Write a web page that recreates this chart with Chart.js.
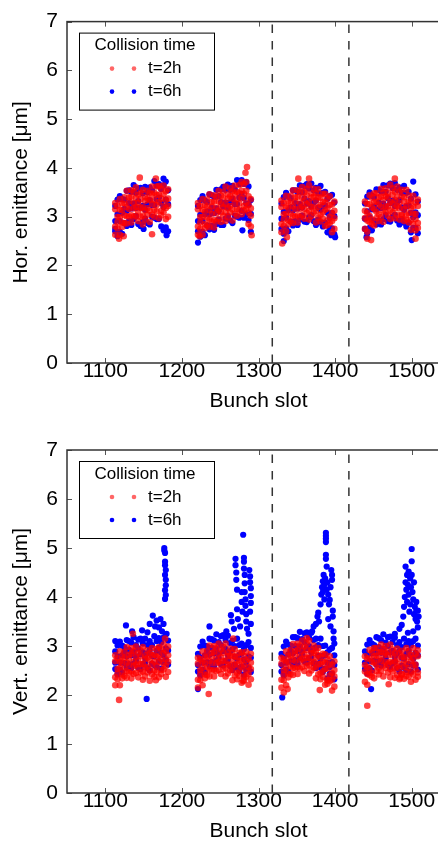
<!DOCTYPE html>
<html lang="en">
<head>
<meta charset="UTF-8">
<title>Bunch emittance</title>
<script src="https://cdn.jsdelivr.net/npm/chart.js@4.4.0/dist/chart.umd.min.js"></script>
<style>
  html, body { margin: 0; padding: 0; background: #fff; overflow: hidden; width: 438px; height: 846px; }
  #hor { position: absolute; left: 0; top: 0; }
  #ver { position: absolute; left: 0; top: 420px; }
</style>
</head>
<body>
<canvas id="hor" width="470" height="420"></canvas>
<canvas id="ver" width="470" height="430"></canvas>
<script>
// tick labels and batch boundaries
const xTicks = [1100, 1200, 1300, 1400, 1500];
const yTicks = [0, 1, 2, 3, 4, 5, 6, 7];
const batchEdges = [1318, 1418];

// bunch slots sampled in the four trains
const slots = [
  1113,1116,1119,1122,1125,1128,1131,1134,1137,1140,1143,1146,1149,1152,1155,1158,1161,1164,1167,1170,1173,1176,1179,1182,
  1221,1224,1227,1230,1233,1236,1239,1242,1245,1248,1251,1254,1257,1260,1263,1266,1269,1272,1275,1278,1281,1284,1287,1290,
  1330,1333,1336,1339,1342,1345,1348,1351,1354,1357,1360,1363,1366,1369,1372,1375,1378,1381,1384,1387,1390,1393,1396,1399,
  1439,1442,1445,1448,1451,1454,1457,1460,1463,1466,1469,1472,1475,1478,1481,1484,1487,1490,1493,1496,1499,1502,1505,1508
];

// horizontal emittance, t=2h (several readings per slot)
const horRedA = [
  3.28,3.23,3.36,3.27,3.40,3.53,3.40,3.54,3.51,3.60,3.45,3.49,3.55,3.41,3.53,3.49,3.62,3.49,3.62,3.63,3.57,3.64,3.52,3.56,
  3.28,3.22,3.36,3.24,3.35,3.46,3.30,3.44,3.41,3.53,3.43,3.51,3.62,3.46,3.58,3.52,3.64,3.51,3.65,3.71,3.67,3.71,3.42,3.36,
  3.33,3.28,3.43,3.32,3.43,3.54,3.40,3.54,3.50,3.61,3.50,3.57,3.65,3.48,3.57,3.48,3.56,3.39,3.47,3.47,3.37,3.42,3.25,3.31,
  3.31,3.26,3.44,3.39,3.48,3.48,3.40,3.57,3.49,3.58,3.49,3.66,3.58,3.51,3.62,3.51,3.55,3.40,3.55,3.44,3.32,3.43,3.29,3.35
];
const horRedB = [
  3.15,3.00,3.14,3.13,3.27,3.20,3.31,3.41,3.28,3.38,3.28,3.36,3.19,3.32,3.37,3.34,3.46,3.34,3.45,3.45,3.37,3.46,3.34,3.37,
  3.15,2.99,3.14,3.10,3.22,3.13,3.21,3.31,3.18,3.31,3.26,3.38,3.26,3.37,3.42,3.37,3.48,3.36,3.48,3.53,3.47,3.53,3.24,3.17,
  3.20,3.05,3.21,3.18,3.30,3.21,3.31,3.41,3.27,3.39,3.33,3.44,3.29,3.39,3.41,3.33,3.40,3.24,3.30,3.29,3.17,3.24,3.07,3.12,
  3.12,3.08,3.26,3.19,3.30,3.31,3.25,3.41,3.34,3.42,3.40,3.30,3.45,3.34,3.40,3.28,3.42,3.31,3.22,3.31,3.18,3.21,3.06,3.22
];
const horRedC = [
  2.80,2.89,2.99,2.88,3.03,3.01,3.16,3.03,3.17,3.20,3.11,3.18,3.02,3.13,3.17,3.12,3.26,3.14,3.24,3.30,3.12,3.22,3.18,3.22,
  2.80,2.88,2.99,2.85,2.98,2.94,3.06,2.93,3.07,3.13,3.09,3.20,3.09,3.18,3.22,3.15,3.28,3.16,3.27,3.38,3.22,3.29,3.08,3.02,
  2.85,2.94,3.06,2.93,3.06,3.02,3.16,3.03,3.16,3.21,3.16,3.26,3.12,3.20,3.21,3.11,3.20,3.04,3.09,3.14,2.92,3.00,2.91,2.97,
  2.97,2.92,3.02,2.94,3.15,3.10,3.05,3.21,3.12,3.22,3.21,3.13,3.27,3.17,3.22,3.17,3.04,3.16,3.03,3.07,2.93,3.06,2.95,2.87
];
const horRedD = [
  2.63,2.76,2.63,2.79,2.87,2.86,3.00,2.88,3.00,3.02,2.91,3.00,2.84,2.94,3.04,2.89,3.04,3.00,3.11,2.97,3.03,3.09,2.95,3.00,
  2.63,2.75,2.63,2.76,2.82,2.79,2.90,2.78,2.90,2.95,2.89,3.02,2.91,2.99,3.09,2.92,3.06,3.02,3.14,3.05,3.13,3.16,2.85,2.80,
  2.68,2.81,2.70,2.84,2.90,2.87,3.00,2.88,2.99,3.03,2.96,3.08,2.94,3.01,3.08,2.88,2.98,2.90,2.96,2.81,2.83,2.87,2.68,2.75,
  2.75,2.69,2.89,2.85,2.82,2.97,2.91,2.99,2.89,3.09,3.02,2.95,3.09,2.97,3.04,2.94,3.03,2.91,2.94,2.88,2.73,2.85,2.72,2.77
];
const horRedOutX = [1118, 1124, 1145, 1161, 1166, 1223, 1283, 1285, 1291, 1331, 1337, 1352, 1366, 1442, 1447, 1478, 1505];
const horRedOutY = [2.55, 2.60, 3.80, 2.64, 3.78, 2.60, 3.90, 4.02, 2.62, 2.45, 2.58, 3.78, 3.78, 2.55, 2.52, 3.78, 2.55];

// horizontal emittance, t=6h
const horBlueA = [
  3.22,3.35,3.42,3.36,3.35,3.53,3.54,3.51,3.65,3.49,3.58,3.59,3.48,3.61,3.50,3.60,3.54,3.73,3.64,3.67,3.57,3.64,3.72,3.54,
  3.22,3.34,3.42,3.33,3.30,3.46,3.44,3.41,3.55,3.42,3.56,3.61,3.55,3.66,3.55,3.63,3.56,3.75,3.67,3.75,3.67,3.71,3.62,3.34,
  3.27,3.40,3.49,3.41,3.38,3.54,3.54,3.51,3.64,3.50,3.63,3.67,3.58,3.68,3.54,3.59,3.48,3.63,3.49,3.51,3.37,3.42,3.45,3.29,
  3.27,3.41,3.50,3.43,3.40,3.56,3.55,3.52,3.65,3.51,3.64,3.68,3.59,3.69,3.55,3.60,3.49,3.63,3.49,3.51,3.37,3.72,3.46,3.31
];
const horBlueB = [
  2.91,3.05,2.91,3.08,3.16,3.12,3.28,3.17,3.27,3.18,3.32,3.19,3.22,3.14,3.25,3.34,3.24,3.24,3.36,3.39,3.28,3.20,3.35,3.26,
  2.91,3.04,2.91,3.05,3.11,3.05,3.18,3.07,3.17,3.11,3.30,3.21,3.29,3.19,3.30,3.37,3.26,3.26,3.39,3.47,3.38,3.27,3.25,3.06,
  2.96,3.10,2.98,3.13,3.19,3.13,3.28,3.17,3.26,3.19,3.37,3.27,3.32,3.21,3.29,3.33,3.18,3.14,3.21,3.23,3.08,2.98,3.08,3.01,
  2.96,3.11,2.99,3.15,3.21,3.15,3.29,3.18,3.27,3.20,3.38,3.28,3.33,3.22,3.30,3.34,3.19,3.14,3.21,3.23,3.08,2.99,3.09,3.03
];
const horBlueC = [
  2.70,2.60,2.69,2.65,2.87,2.81,2.91,2.83,2.95,3.01,2.85,2.81,2.89,2.96,2.87,2.84,3.00,2.98,2.95,2.95,2.80,2.72,2.78,2.70,
  2.70,2.59,2.69,2.62,2.82,2.74,2.81,2.73,2.85,2.94,2.83,2.83,2.96,3.01,2.92,2.87,3.02,3.00,2.98,3.12,2.98,3.05,2.93,2.69,
  2.75,2.65,2.76,2.70,2.90,2.82,2.91,2.83,2.94,3.02,2.90,2.89,2.99,3.03,2.91,2.83,2.94,2.88,2.80,2.88,2.68,2.76,2.76,2.64,
  2.75,2.66,2.77,2.72,2.92,2.84,2.92,2.84,2.95,3.03,2.91,2.90,3.00,3.04,2.92,2.84,2.95,2.88,2.80,2.88,2.68,2.77,2.77,2.66
];
const horBlueOutX = [1113, 1150, 1176, 1180, 1221, 1279, 1333, 1395, 1400, 1441, 1500];
const horBlueOutY = [2.75, 2.75, 3.78, 2.62, 2.47, 2.72, 2.50, 2.62, 2.58, 2.58, 2.52];

// vertical emittance, t=2h
const verRedA = [
  2.81,2.75,2.89,2.78,2.88,2.98,2.82,2.96,2.90,2.99,2.86,2.91,2.98,2.81,2.91,2.85,2.96,2.82,2.94,2.98,2.93,3.03,2.90,2.99,
  2.76,2.73,2.89,2.78,2.90,3.01,2.86,3.00,2.96,3.05,2.93,2.98,3.05,2.87,2.95,2.86,2.94,2.77,2.86,2.87,2.80,2.88,2.74,2.84,
  2.76,2.73,2.89,2.80,2.92,3.04,2.90,3.05,3.01,3.11,2.99,3.04,3.11,2.93,3.01,2.90,2.96,2.77,2.84,2.83,2.73,2.79,2.62,2.69,
  2.79,2.74,2.92,2.87,2.96,2.96,2.87,3.03,2.94,3.00,2.89,3.03,2.93,2.85,2.95,2.85,2.90,2.78,2.96,2.89,2.82,2.96,2.84,2.91
];
const verRedB = [
  2.69,2.53,2.68,2.65,2.76,2.66,2.74,2.84,2.68,2.78,2.70,2.79,2.63,2.73,2.76,2.71,2.81,2.68,2.78,2.81,2.74,2.86,2.73,2.81,
  2.64,2.51,2.68,2.65,2.78,2.69,2.78,2.88,2.74,2.84,2.77,2.86,2.70,2.79,2.80,2.72,2.79,2.63,2.70,2.70,2.61,2.71,2.57,2.66,
  2.64,2.51,2.68,2.67,2.80,2.72,2.82,2.93,2.79,2.90,2.83,2.92,2.76,2.85,2.86,2.76,2.81,2.63,2.68,2.66,2.54,2.62,2.45,2.51,
  2.61,2.57,2.75,2.68,2.79,2.80,2.73,2.88,2.80,2.85,2.81,2.68,2.81,2.69,2.74,2.63,2.78,2.70,2.64,2.77,2.69,2.75,2.62,2.79
];
const verRedC = [
  2.36,2.44,2.55,2.42,2.54,2.49,2.61,2.48,2.59,2.62,2.55,2.63,2.48,2.56,2.58,2.51,2.63,2.50,2.59,2.68,2.51,2.64,2.59,2.68,
  2.31,2.42,2.55,2.42,2.56,2.52,2.65,2.52,2.65,2.68,2.62,2.70,2.55,2.62,2.62,2.52,2.61,2.45,2.51,2.57,2.38,2.49,2.43,2.53,
  2.31,2.42,2.55,2.44,2.58,2.55,2.69,2.57,2.70,2.74,2.68,2.76,2.61,2.68,2.68,2.56,2.63,2.45,2.49,2.53,2.31,2.40,2.31,2.38,
  2.48,2.43,2.53,2.45,2.66,2.61,2.55,2.70,2.60,2.67,2.64,2.53,2.65,2.54,2.58,2.54,2.42,2.57,2.47,2.55,2.46,2.62,2.53,2.46
];
const verRedD = [
  2.20,2.32,2.20,2.34,2.39,2.35,2.46,2.34,2.43,2.45,2.36,2.46,2.31,2.38,2.46,2.29,2.42,2.37,2.47,2.36,2.43,2.52,2.37,2.47,
  2.15,2.30,2.20,2.34,2.41,2.38,2.50,2.38,2.49,2.51,2.43,2.53,2.38,2.44,2.50,2.30,2.40,2.32,2.39,2.25,2.30,2.37,2.21,2.32,
  2.15,2.30,2.20,2.36,2.43,2.41,2.54,2.43,2.54,2.57,2.49,2.59,2.44,2.50,2.56,2.34,2.42,2.32,2.37,2.21,2.23,2.28,2.09,2.17,
  2.27,2.21,2.41,2.37,2.34,2.49,2.42,2.49,2.38,2.55,2.46,2.36,2.48,2.35,2.41,2.32,2.42,2.33,2.39,2.37,2.27,2.42,2.31,2.37
];
const verRedOutX = [1118, 1136, 1166, 1178, 1235, 1267, 1280, 1333, 1338, 1363, 1380, 1390, 1442, 1470, 1485];
const verRedOutY = [1.90, 3.25, 2.30, 3.15, 2.02, 3.15, 2.28, 2.05, 2.12, 3.16, 2.10, 2.30, 1.78, 2.22, 2.35];

// vertical emittance, t=6h
const verBlueA = [
  2.89,3.01,3.09,3.01,2.97,3.12,3.10,3.07,3.18,3.02,3.13,3.15,3.05,3.15,3.02,3.10,3.02,3.20,3.10,3.16,3.07,3.17,3.24,3.11,
  2.84,2.99,3.09,3.01,2.99,3.15,3.14,3.11,3.24,3.08,3.20,3.22,3.12,3.21,3.06,3.11,3.00,3.15,3.02,3.05,2.94,3.02,3.08,2.96,
  2.84,2.99,3.09,3.03,3.01,3.18,3.18,3.16,3.29,3.14,3.26,3.28,3.18,3.27,3.12,3.15,3.02,3.15,3.00,3.01,2.87,2.93,2.96,2.81,
  2.89,3.03,3.12,3.05,3.02,3.18,3.16,3.12,3.24,3.07,3.18,3.19,3.08,3.17,3.02,3.08,2.98,3.15,3.04,3.10,3.01,3.10,3.15,3.01
];
const verBlueB = [
  2.66,2.79,2.66,2.81,2.86,2.79,2.92,2.81,2.88,2.79,2.95,2.83,2.87,2.76,2.85,2.92,2.80,2.79,2.90,2.96,2.86,2.81,2.95,2.91,
  2.61,2.77,2.66,2.81,2.88,2.82,2.96,2.85,2.94,2.85,3.02,2.90,2.94,2.82,2.89,2.93,2.78,2.74,2.82,2.85,2.73,2.66,2.79,2.76,
  2.61,2.77,2.66,2.83,2.90,2.85,3.00,2.90,2.99,2.91,3.08,2.96,3.00,2.88,2.95,2.97,2.80,2.74,2.80,2.81,2.66,2.57,2.67,2.61,
  2.66,2.81,2.69,2.85,2.91,2.85,2.98,2.86,2.94,2.84,3.00,2.87,2.90,2.78,2.85,2.90,2.76,2.74,2.84,2.90,2.80,2.74,2.86,2.81
];
const verBlueC = [
  2.53,2.42,2.52,2.46,2.65,2.56,2.63,2.55,2.64,2.70,2.56,2.53,2.62,2.66,2.55,2.50,2.64,2.61,2.57,2.69,2.54,2.67,2.71,2.62,
  2.48,2.40,2.52,2.46,2.67,2.59,2.67,2.59,2.70,2.76,2.63,2.60,2.69,2.72,2.59,2.51,2.62,2.56,2.49,2.58,2.41,2.52,2.55,2.47,
  2.48,2.40,2.52,2.48,2.69,2.62,2.71,2.64,2.75,2.82,2.69,2.66,2.75,2.78,2.65,2.55,2.64,2.56,2.47,2.54,2.34,2.43,2.43,2.32,
  2.53,2.44,2.55,2.50,2.70,2.62,2.69,2.60,2.70,2.75,2.61,2.57,2.65,2.68,2.55,2.48,2.60,2.56,2.51,2.63,2.48,2.60,2.62,2.52
];
// growth at the end of each train, plus a few low readings
const verBlueTailX = [
  1113,1127,1135,1148,1155,1158,1162,1165,1167,1170,1172,1174,1176,1177,1177,1178,1178,1178,1179,1178,1179,1179,1178,1179,1178,1180,
  1236,1258,1264,1265,1268,1270,1270,1271,1271,1272,1272,1273,1276,1278,1278,1279,1280,1281,1281,1281,1282,1282,1282,1283,1283,1284,1284,1285,1288,1289,1289,1290,1290,1290,1289,1290,1287,
  1370,1372,1375,1377,1378,1379,1381,1382,1383,1384,1384,1385,1386,1386,1387,1388,1388,1388,1388,1388,1388,1389,1389,1390,1391,1392,1393,1394,1395,1396,1396,1397,1397,1398,1398,1399,1394,1391,
  1478,1484,1487,1489,1490,1491,1492,1492,1493,1494,1494,1495,1496,1496,1497,1498,1498,1499,1500,1500,1500,1501,1502,1503,1503,1504,1505,1506,1506,1507,1508,1508,1509,1502,1495,
  1154,1221,1331,1447
];
const verBlueTailY = [
  3.10,3.42,3.30,3.32,3.28,3.45,3.62,3.40,3.52,3.38,3.55,3.30,3.45,5.00,4.95,4.90,4.72,4.65,4.55,4.45,4.35,4.24,4.14,4.04,3.96,3.25,
  3.40,3.30,3.63,3.50,3.35,4.78,4.65,4.50,4.35,4.15,3.75,3.55,3.40,4.10,3.90,3.70,5.27,4.80,4.72,4.58,4.45,4.28,4.10,3.95,3.82,3.65,3.50,3.35,4.55,4.42,4.30,4.18,4.02,3.88,3.70,3.45,3.25,
  3.30,3.40,3.45,3.60,3.68,3.50,3.85,4.05,4.20,4.32,4.10,4.45,3.95,4.25,4.38,4.86,4.78,5.12,5.19,5.25,5.31,4.62,4.15,4.30,4.05,3.85,3.94,4.20,4.55,4.45,4.35,3.72,3.60,3.30,3.15,3.05,3.40,3.55,
  3.25,3.35,3.43,3.60,3.80,4.00,4.62,4.30,4.15,4.45,3.90,4.25,4.52,4.05,3.70,4.38,3.85,4.20,4.98,4.73,4.45,4.10,3.95,4.30,3.65,3.80,3.55,3.90,3.72,3.50,3.72,3.38,3.60,3.30,3.27,
  1.92,2.12,1.95,2.12
];

const FONT = '"Liberation Sans", Arial, Helvetica, sans-serif';
const RED = 'rgba(255, 0, 0, 0.74)';
const BLUE = 'rgb(0, 0, 255)';
const legendColors = ['rgba(255, 0, 0, 0.6)', BLUE];

function points(xs, ys) {
  return xs.map((x, i) => ({ x: x, y: ys[i] }));
}
function layers(xs, list) {
  return list.reduce((acc, ys) => acc.concat(points(xs, ys)), []);
}

// inward ticks, axes frame and the boxed legend
const framePlugin = {
  id: 'frame',
  afterDraw(chart) {
    const { ctx, chartArea: a, scales } = chart;
    const line = (x1, y1, x2, y2) => { ctx.beginPath(); ctx.moveTo(x1, y1); ctx.lineTo(x2, y2); ctx.stroke(); };
    ctx.save();
    ctx.strokeStyle = '#555';
    ctx.lineWidth = 1;
    xTicks.forEach(v => {
      const px = Math.round(scales.x.getPixelForValue(v)) + 0.5;
      line(px, a.bottom, px, a.bottom - 5);
      line(px, a.top, px, a.top + 5);
    });
    yTicks.forEach(v => {
      const py = Math.round(scales.y.getPixelForValue(v)) + 0.5;
      line(a.left, py, a.left + 5, py);
      line(a.right, py, a.right - 5, py);
    });
    ctx.strokeStyle = '#333';
    ctx.lineWidth = 1.5;
    ctx.strokeRect(a.left, a.top, a.right - a.left, a.bottom - a.top);

    const bx = a.left + 12, by = a.top + 11;
    ctx.fillStyle = '#fff';
    ctx.fillRect(bx, by, 135, 77);
    ctx.strokeStyle = '#000';
    ctx.lineWidth = 1;
    ctx.strokeRect(bx + 0.5, by + 0.5, 135, 77);
    ctx.fillStyle = '#000';
    ctx.font = '17px ' + FONT;
    ctx.textAlign = 'center';
    ctx.textBaseline = 'middle';
    ctx.fillText('Collision time', bx + 66, a.top + 24);
    chart.data.datasets.slice(0, 2).forEach((ds, i) => {
      const yy = a.top + 47 + i * 23;
      ctx.fillStyle = legendColors[i];
      [33, 55].forEach(dx => {
        ctx.beginPath();
        ctx.arc(bx + dx, yy, 2.3, 0, Math.PI * 2);
        ctx.fill();
      });
      ctx.fillStyle = '#000';
      ctx.textAlign = 'left';
      ctx.fillText(ds.label, bx + 69, yy);
    });
    ctx.restore();
  }
};

function makeChart(id, yTitle, redData, blueData, topPad) {
  const edgeSets = batchEdges.map(b => ({
    data: [{ x: b, y: 0 }, { x: b, y: 7 }],
    showLine: true,
    borderColor: '#333',
    borderWidth: 1.5,
    borderDash: [8.5, 8],
    pointRadius: 0,
    order: 3
  }));
  return new Chart(document.getElementById(id), {
    type: 'scatter',
    data: {
      datasets: [
        { label: 't=2h', data: redData, backgroundColor: RED, borderWidth: 0, pointRadius: 3.3, order: 1 },
        { label: 't=6h', data: blueData, backgroundColor: BLUE, borderWidth: 0, pointRadius: 3.1, order: 2 }
      ].concat(edgeSets)
    },
    options: {
      responsive: false,
      animation: false,
      devicePixelRatio: 1,
      layout: { padding: { top: topPad, right: 20, left: 0, bottom: 0 } },
      plugins: { legend: { display: false }, tooltip: { enabled: false } },
      scales: {
        x: {
          type: 'linear', min: 1050, max: 1550,
          grid: { display: false, drawTicks: false },
          border: { display: false },
          afterBuildTicks: s => { s.ticks = xTicks.map(v => ({ value: v })); },
          afterFit: s => { s.height = 57; },
          ticks: { padding: -4, color: '#000', font: { family: FONT, size: 21 }, callback: v => String(v) },
          title: { display: true, text: 'Bunch slot', color: '#000', font: { family: FONT, size: 21 }, padding: { top: 0, bottom: 6 } }
        },
        y: {
          type: 'linear', min: 0, max: 7,
          grid: { display: false, drawTicks: false },
          border: { display: false },
          afterBuildTicks: s => { s.ticks = yTicks.map(v => ({ value: v })); },
          afterFit: s => { s.width = 67; },
          ticks: { padding: 9, color: '#000', font: { family: FONT, size: 21 }, callback: v => String(v) },
          title: { display: true, text: yTitle, color: '#000', font: { family: FONT, size: 21 }, padding: { top: 9, bottom: 0 } }
        }
      }
    },
    plugins: [framePlugin]
  });
}

makeChart('hor', 'Hor. emittance [\u03bcm]',
  layers(slots, [horRedA, horRedB, horRedC, horRedD]).concat(points(horRedOutX, horRedOutY)),
  layers(slots, [horBlueA, horBlueB, horBlueC]).concat(points(horBlueOutX, horBlueOutY)),
  18);

makeChart('ver', 'Vert. emittance [\u03bcm]',
  layers(slots, [verRedA, verRedB, verRedC, verRedD]).concat(points(verRedOutX, verRedOutY)),
  layers(slots, [verBlueA, verBlueB, verBlueC]).concat(points(verBlueTailX, verBlueTailY)),
  30);
</script>
</body>
</html>
